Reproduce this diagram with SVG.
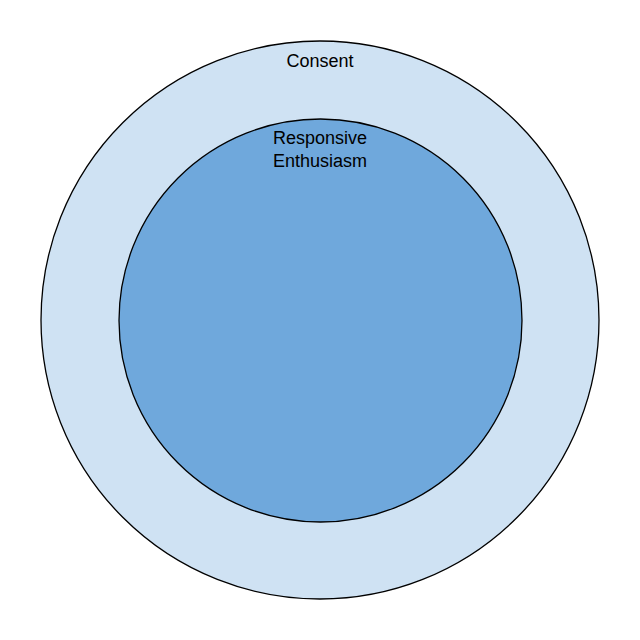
<svg xmlns="http://www.w3.org/2000/svg" width="640" height="640" viewBox="0 0 640 640">
<style>
.c{stroke:#000;stroke-width:1.3}
.t{font-family:"Liberation Sans",Arial,sans-serif;font-size:18px;fill:#000;text-anchor:middle}
</style>
<rect width="640" height="640" fill="#fff"/>
<g id="consent">
<circle class="c" cx="320" cy="320" r="279" fill="#cfe2f3"/>
<text class="t" x="320" y="67">Consent</text>
</g>
<g id="responsive-enthusiasm">
<circle class="c" cx="320.5" cy="320.5" r="201.5" fill="#6fa8dc"/>
<text class="t" x="320" y="144">Responsive</text>
<text class="t" x="320" y="166.5">Enthusiasm</text>
</g>
<g id="connectors"/>
</svg>
